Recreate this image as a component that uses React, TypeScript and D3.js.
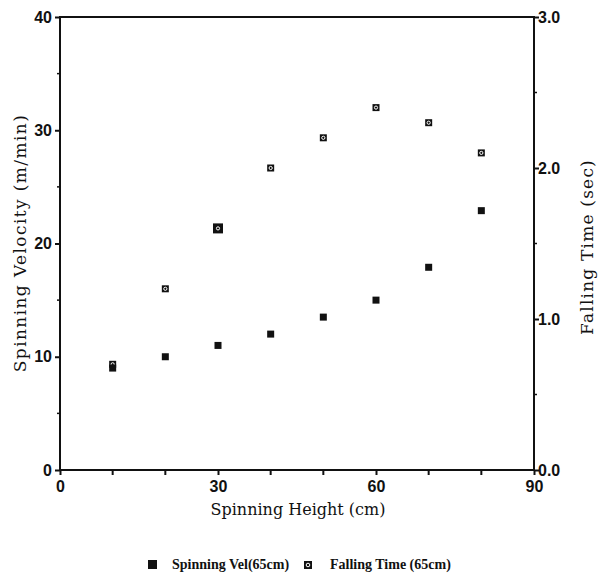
import React, { useEffect, useRef } from 'react';
import * as d3 from 'd3';

// spinning height (cm)
const heights = [10, 20, 30, 40, 50, 60, 70, 80];
// spinning velocity, left axis (m/min)
const spinVel = [9.0, 10.0, 11.0, 12.0, 13.5, 15.0, 17.9, 22.9];
// falling time, right axis (sec)
const fallTime = [0.7, 1.2, 1.6, 2.0, 2.2, 2.4, 2.3, 2.1];

const xTicks = [0, 30, 60, 90];
const yLeftTicks = [0, 10, 20, 30, 40];
const yRightTicks = [0, 1, 2, 3];

const App = () => {
  const svgRef = useRef<SVGSVGElement | null>(null);

  useEffect(() => {
    const svg = d3.select(svgRef.current);
    svg.selectAll('*').remove();

    const left = 60, right = 534, top = 17, bottom = 470;
    const tickFont = '"Liberation Sans", Arial, sans-serif';
    const titleFont = '"DejaVu Serif", "Liberation Serif", serif';

    const x = d3.scaleLinear().domain([0, 90]).range([left, right]);
    const yL = d3.scaleLinear().domain([0, 40]).range([bottom, top]);
    const yR = d3.scaleLinear().domain([0, 3]).range([bottom, top]);

    // frame
    svg.append('rect')
      .attr('x', left).attr('y', top)
      .attr('width', right - left).attr('height', bottom - top)
      .attr('fill', 'none').attr('stroke', '#111').attr('stroke-width', 2);

    // bottom axis
    const xAxis = d3.axisBottom(x).tickValues(xTicks).tickSize(5).tickSizeOuter(0)
      .tickFormat(d3.format('d'));
    const gx = svg.append('g').attr('transform', `translate(0,${bottom})`).call(xAxis);
    gx.select('.domain').remove();
    gx.selectAll('line').attr('stroke', '#111').attr('stroke-width', 2);
    gx.selectAll('text').attr('font-family', tickFont).attr('font-weight', 'bold')
      .attr('font-size', 16).attr('fill', '#111').attr('dy', '0.85em');
    svg.append('g').selectAll('line')
      .data(d3.range(10, 90, 10).filter(d => d % 30 !== 0))
      .join('line')
      .attr('x1', d => x(d)).attr('x2', d => x(d))
      .attr('y1', bottom).attr('y2', bottom + 5)
      .attr('stroke', '#111').attr('stroke-width', 2);

    // left axis
    const yAxisL = d3.axisLeft(yL).tickValues(yLeftTicks).tickSize(5).tickSizeOuter(0)
      .tickFormat(d3.format('d'));
    const gl = svg.append('g').attr('transform', `translate(${left},0)`).call(yAxisL);
    gl.select('.domain').remove();
    gl.selectAll('line').attr('stroke', '#111').attr('stroke-width', 2);
    gl.selectAll('text').attr('font-family', tickFont).attr('font-weight', 'bold')
      .attr('font-size', 16).attr('fill', '#111');
    svg.append('g').selectAll('line')
      .data([5, 15, 25, 35])
      .join('line')
      .attr('x1', left - 3).attr('x2', left)
      .attr('y1', d => yL(d)).attr('y2', d => yL(d))
      .attr('stroke', '#111').attr('stroke-width', 1.5);

    // right axis
    const yAxisR = d3.axisRight(yR).tickValues(yRightTicks).tickSize(5).tickSizeOuter(0)
      .tickFormat(d3.format('.1f'));
    const gr = svg.append('g').attr('transform', `translate(${right},0)`).call(yAxisR);
    gr.select('.domain').remove();
    gr.selectAll('line').attr('stroke', '#111').attr('stroke-width', 2);
    gr.selectAll('text').attr('font-family', tickFont).attr('font-weight', 'bold')
      .attr('font-size', 16).attr('fill', '#111').attr('dx', '-0.25em');
    svg.append('g').selectAll('line')
      .data([0.5, 1.5, 2.5])
      .join('line')
      .attr('x1', right).attr('x2', right + 3)
      .attr('y1', d => yR(d)).attr('y2', d => yR(d))
      .attr('stroke', '#111').attr('stroke-width', 1.5);

    // axis titles
    svg.append('text')
      .attr('x', 298).attr('y', 515)
      .attr('text-anchor', 'middle')
      .attr('font-family', titleFont).attr('font-size', 16).attr('fill', '#111')
      .text('Spinning Height (cm)');
    svg.append('text')
      .attr('transform', `translate(26,243) rotate(-90)`)
      .attr('text-anchor', 'middle')
      .attr('font-family', titleFont).attr('font-size', 17)
      .attr('letter-spacing', 1.4).attr('fill', '#111')
      .text('Spinning Velocity (m/min)');
    svg.append('text')
      .attr('transform', `translate(593,247) rotate(-90)`)
      .attr('text-anchor', 'middle')
      .attr('font-family', titleFont).attr('font-size', 17)
      .attr('letter-spacing', 1.2).attr('fill', '#111')
      .text('Falling Time (sec)');

    // falling time markers
    const ft = svg.append('g');
    heights.forEach((h, i) => {
      const s = h === 30 ? 10 : 7;
      const cx = x(h), cy = yR(fallTime[i]);
      ft.append('rect')
        .attr('x', cx - s / 2).attr('y', cy - s / 2)
        .attr('width', s).attr('height', s).attr('fill', '#111');
      ft.append('circle')
        .attr('cx', cx).attr('cy', cy).attr('r', 1.6)
        .attr('fill', 'none').attr('stroke', '#fff').attr('stroke-width', 1);
    });

    // spinning velocity markers
    svg.append('g').selectAll('rect')
      .data(heights)
      .join('rect')
      .attr('x', d => x(d) - 3.5)
      .attr('y', (d, i) => yL(spinVel[i]) - 3.5)
      .attr('width', 7).attr('height', 7)
      .attr('fill', '#111');

    // legend
    const legendFont = '"Liberation Serif", serif';
    const lg = svg.append('g').attr('transform', 'translate(0,565)');
    lg.append('rect').attr('x', 148).attr('y', -5).attr('width', 9).attr('height', 9).attr('fill', '#111');
    lg.append('text').attr('x', 172).attr('y', 4)
      .attr('font-family', legendFont).attr('font-weight', 'bold')
      .attr('font-size', 14).attr('fill', '#111')
      .text('Spinning Vel(65cm)');
    lg.append('rect').attr('x', 304).attr('y', -4).attr('width', 8).attr('height', 8).attr('fill', '#111');
    lg.append('circle').attr('cx', 308).attr('cy', 0).attr('r', 1.8)
      .attr('fill', 'none').attr('stroke', '#fff').attr('stroke-width', 1);
    lg.append('text').attr('x', 330).attr('y', 4)
      .attr('font-family', legendFont).attr('font-weight', 'bold')
      .attr('font-size', 14).attr('fill', '#111')
      .text('Falling Time (65cm)');
  }, []);

  return (
    <svg ref={svgRef} width={599} height={574}
      style={{ position: 'absolute', left: 0, top: 0, background: '#fff' }} />
  );
};

export default App;
